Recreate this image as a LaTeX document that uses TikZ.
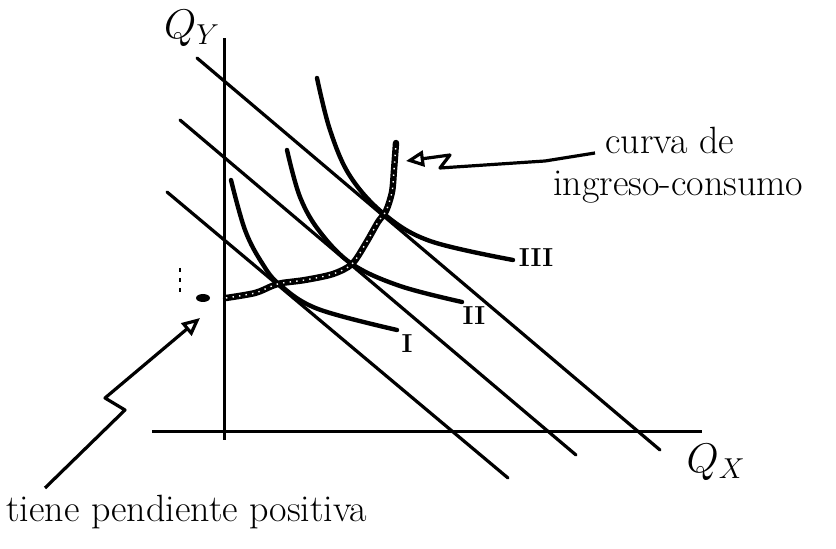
\documentclass[tikz,border=0pt]{standalone}
\usepackage{tikz}
\usetikzlibrary{positioning,arrows.meta}
\tikzset{
	axisline/.style={line width=1.5pt},
	budget/.style={line width=1.6pt, line cap=round},
	indiff/.style={line width=2.2pt, line cap=round},
	beads/.style={line width=3.2pt, line cap=round},
	beadholes/.style={white, line width=0.7pt, dash pattern=on 0.7pt off 2.6pt},
	pointer/.style={line width=1.6pt, line join=round, -{Triangle[open,length=9pt,width=8pt]}},
	handtext/.style={font=\fontsize{19}{21}\selectfont, inner sep=0pt},
	numlabel/.style={font=\fontsize{13}{14}\selectfont\bfseries, inner sep=0pt},
}

\begin{document}
\begin{tikzpicture}[x=0.5pt,y=-0.5pt]
		\useasboundingbox (0,0) rectangle (836,549);
		
		%Axes
		\coordinate (ytop) at (224,38);
		\coordinate (ybot) at (224,440);
		\coordinate (xleft) at (152,432);
		\coordinate (xright) at (702,432);
		\draw[axisline] (ybot) -- (ytop);
		\draw[axisline] (xleft) -- (xright);
		\node[font=\fontsize{20}{22}\selectfont, inner sep=0pt] (qy) at (192,28) {$Q_Y$};
		\node[font=\fontsize{22}{24}\selectfont, inner sep=0pt] (qx) at (716,462) {$Q_X$};
		
		% Budget lines
		\coordinate (b1s) at (167,192);  \coordinate (b1e) at (508,478);
		\coordinate (b2s) at (180,120);  \coordinate (b2e) at (576,455);
		\coordinate (b3s) at (197,58);   \coordinate (b3e) at (660,450);
		\draw[budget] (b1s) -- (b1e);
		\draw[budget] (b2s) -- (b2e);
		\draw[budget] (b3s) -- (b3e);
		
		% Indifference curves
		\draw[indiff] plot[smooth, tension=0.6] coordinates {(231,180) (245,230) (262,263) (280,285) (318,309) (397,330)};
		\draw[indiff] plot[smooth, tension=0.6] coordinates {(287,150) (300,197) (320,232) (352,264) (400,286) (462,302)};
		\draw[indiff] plot[smooth, tension=0.6] coordinates {(317,78) (330,130) (350,176) (384,214) (430,241) (513,260)};
		\node[numlabel] (ic1) at (407,344) {I};
		\node[numlabel] (ic2) at (474,316) {II};
		\node[numlabel] (ic3) at (536,258) {III};
		
		% Income-consumption curve
		\draw[beads] plot[smooth, tension=0.5] coordinates {(226,298) (255,293) (272,286) (282,283) (305,280) (333,274) (352,264) (366,243) (378,222) (386,211) (392,192) (394,170) (396,143)};
		\draw[beadholes] plot[smooth, tension=0.5] coordinates {(226,298) (255,293) (272,286) (282,283) (305,280) (333,274) (352,264) (366,243) (378,222) (386,211) (392,192) (394,170) (396,143)};
		\fill (203,298) ellipse (7 and 4);
		\draw[line width=1pt, dash pattern=on 2pt off 3pt] (180,268) -- (180,292);
		
		% Labels
		\node[handtext, anchor=base west] (curvade) at (605,154) {curva de};
		\node[handtext, anchor=base west] (ingreso) at (553,196) {ingreso-consumo};
		\node[handtext, anchor=base west] (tiene) at (6,522) {tiene pendiente positiva};
		
		% Pointers
		\coordinate (icctip) at (406,161);
		\coordinate (tienetip) at (200,318);
		\draw[pointer] (595,153) -- (545,161) -- (440,168) -- (450,155) -- (icctip);
		\draw[pointer] (45,488) -- (125,410) -- (105,398) -- (tienetip);
	\end{tikzpicture}
\end{document}
